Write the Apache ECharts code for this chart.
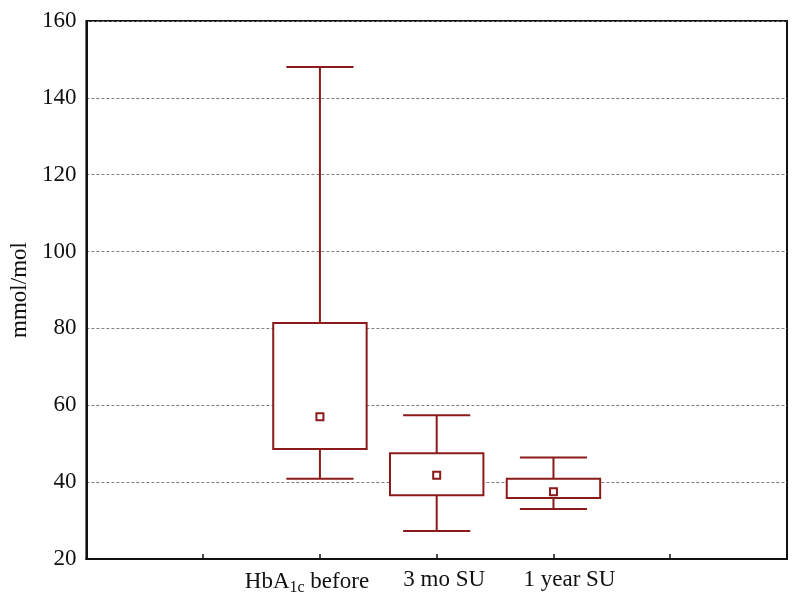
<!DOCTYPE html>
<html>
<head>
<meta charset="utf-8">
<script src="https://cdn.jsdelivr.net/npm/echarts@6/dist/echarts.min.js"></script>
<style>
  html, body { margin: 0; padding: 0; background: #fff; }
  #main { width: 800px; height: 603px; }
</style>
</head>
<body>
<div id="main"></div>
<script>
  // slots on the x axis, only the middle three carry a box
  var categories = ['', '', 'HbA1c before', '3 mo SU', '1 year SU', '', ''];
  var boxIndex = [2, 3, 4];
  var whiskerLow = [40.9, 27.3, 33.0];
  var boxLow = [48.6, 36.6, 35.9];
  var center = [57.0, 41.8, 37.5];
  var boxHigh = [81.4, 47.5, 40.9];
  var whiskerHigh = [148.0, 57.4, 46.4];
  var yTicks = [20, 40, 60, 80, 100, 120, 140, 160];

  var boxColor = '#8b1a1a';
  var chart = echarts.init(document.getElementById('main'));

  var rows = boxIndex.map(function (c, i) {
    return [c, whiskerLow[i], boxLow[i], center[i], boxHigh[i], whiskerHigh[i]];
  });

  function renderBox(params, api) {
    var x = api.value(0);
    var slot = api.size([1, 0])[0];
    var pLow = api.coord([x, api.value(1)]);
    var pQ1 = api.coord([x, api.value(2)]);
    var pMid = api.coord([x, api.value(3)]);
    var pQ3 = api.coord([x, api.value(4)]);
    var pHigh = api.coord([x, api.value(5)]);
    var bw = slot * 0.8, cw = slot * 0.575;
    var cx = pMid[0];
    var st = { stroke: boxColor, lineWidth: 2, fill: null };
    return {
      type: 'group',
      children: [
        { type: 'line', shape: { x1: cx, y1: pQ3[1], x2: cx, y2: pHigh[1] }, style: st },
        { type: 'line', shape: { x1: cx, y1: pQ1[1], x2: cx, y2: pLow[1] }, style: st },
        { type: 'line', shape: { x1: cx - cw / 2, y1: pHigh[1], x2: cx + cw / 2, y2: pHigh[1] }, style: st },
        { type: 'line', shape: { x1: cx - cw / 2, y1: pLow[1], x2: cx + cw / 2, y2: pLow[1] }, style: st },
        { type: 'rect', shape: { x: cx - bw / 2, y: pQ3[1], width: bw, height: pQ1[1] - pQ3[1] },
          style: { stroke: boxColor, lineWidth: 2, fill: '#fff' } },
        { type: 'rect', shape: { x: cx - 3.5, y: pMid[1] - 3.5, width: 7, height: 7 },
          style: { stroke: boxColor, lineWidth: 2, fill: '#fff' } }
      ]
    };
  }

  // labels in the original sit a little off their ticks
  var labelShift = { 'HbA1c before': 'l', '3 mo SU': 'm', '1 year SU': 'r' };
  var serif = 'Liberation Serif';

  chart.setOption({
    animation: false,
    textStyle: { fontFamily: serif },
    grid: {
      left: 86, right: 13, top: 21, bottom: 44,
      show: true, borderColor: '#111', borderWidth: 2
    },
    xAxis: {
      type: 'category',
      data: categories,
      boundaryGap: false,
      axisLine: { lineStyle: { color: '#111', width: 2 } },
      axisTick: { inside: true, length: 5, interval: 0, lineStyle: { color: '#111', width: 1.5 } },
      axisLabel: {
        interval: 0,
        margin: 9,
        color: '#111',
        fontSize: 23,
        fontFamily: serif,
        formatter: function (v) {
          if (!v) return '';
          var k = labelShift[v];
          if (k === 'l') return '{l|HbA}{sub|1c}{l| before}{padR|}';
          return '{' + k + '|' + v + '}';
        },
        rich: {
          l: { fontSize: 23, fontFamily: serif, color: '#111' },
          padR: { width: 26 },
          m: { fontSize: 23, fontFamily: serif, color: '#111', padding: [0, 0, 0, 15] },
          r: { fontSize: 23, fontFamily: serif, color: '#111', padding: [0, 0, 0, 32] },
          sub: { fontSize: 16, fontFamily: serif, color: '#111', verticalAlign: 'bottom', padding: [12, 0, 0, 0] }
        }
      },
      splitLine: { show: false }
    },
    yAxis: {
      type: 'value',
      min: yTicks[0],
      max: yTicks[yTicks.length - 1],
      interval: 20,
      name: 'mmol/mol',
      nameLocation: 'middle',
      nameGap: 50,
      nameRotate: 90,
      nameTextStyle: { fontSize: 23, color: '#111', fontFamily: serif },
      axisLine: { show: true, lineStyle: { color: '#111', width: 2 } },
      axisTick: { show: false },
      axisLabel: { color: '#111', fontSize: 23, margin: 10, fontFamily: serif },
      splitLine: { show: true, lineStyle: { color: '#808080', type: [3, 2], width: 1 } }
    },
    series: [{
      type: 'custom',
      renderItem: renderBox,
      encode: { x: 0, y: [1, 2, 3, 4, 5] },
      data: rows
    }]
  });
</script>
</body>
</html>
